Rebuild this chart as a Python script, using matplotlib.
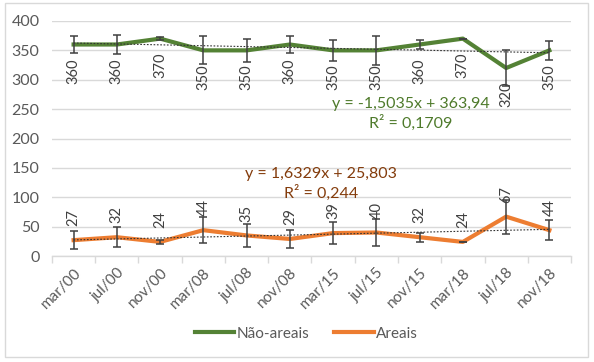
import numpy as np
import matplotlib
matplotlib.use("Agg")
from matplotlib import pyplot as plt
from matplotlib.patches import Rectangle

plt.rcParams['font.family'] = ['Lato', 'DejaVu Sans']

# dados
datas = ['mar/00', 'jul/00', 'nov/00', 'mar/08', 'jul/08', 'nov/08',
         'mar/15', 'jul/15', 'nov/15', 'mar/18', 'jul/18', 'nov/18']
nao_areais = [360, 360, 370, 350, 350, 360, 350, 350, 360, 370, 320, 350]
nao_areais_err = [14, 16, 3, 24, 19, 14, 18, 25, 7, 0, 30, 16]
areais = [27, 32, 24, 44, 35, 29, 39, 40, 32, 24, 67, 44]
areais_err = [15, 17, 4, 22, 20, 15, 19, 23, 8, 0, 29, 17]

# linhas de tendência (Excel, x = 1..12)
tend_nao = (-1.5035, 363.94, 0.1709)
tend_are = (1.6329, 25.803, 0.244)

verde = '#548235'
laranja = '#ED7D31'
cinza = '#595959'

fig = plt.figure(figsize=(5.94, 3.62), dpi=100)
ax = fig.add_axes([0.0875, 0.2928, 0.8738, 0.6492])

x = np.arange(len(datas))

ax.errorbar(x, nao_areais, yerr=nao_areais_err, fmt='none', ecolor='#404040',
            elinewidth=1.1, capsize=3, capthick=1.1, zorder=3)
ax.errorbar(x, areais, yerr=areais_err, fmt='none', ecolor='#404040',
            elinewidth=1.1, capsize=3, capthick=1.1, zorder=3)

ax.plot(x, nao_areais, color=verde, lw=3, label='Não-areais', zorder=2,
        solid_joinstyle='round')
ax.plot(x, areais, color=laranja, lw=3, label='Areais', zorder=2,
        solid_joinstyle='round')

xt = x + 1
ax.plot(x, tend_nao[0] * xt + tend_nao[1], ls=(0, (1.5, 1.5)), color='#333333',
        lw=0.8, zorder=4)
ax.plot(x, tend_are[0] * xt + tend_are[1], ls=(0, (1.5, 1.5)), color='#333333',
        lw=0.8, zorder=4)

for xi, v in zip(x, nao_areais):
    ax.annotate(str(v), (xi, v), xytext=(0, -10), textcoords='offset points',
                rotation=90, ha='center', va='top', fontsize=10.5, color='#404040')
for xi, v in zip(x, areais):
    ax.annotate(str(v), (xi, v), xytext=(0, 10), textcoords='offset points',
                rotation=90, ha='center', va='bottom', fontsize=10.5, color='#404040')

ax.text(7.8, 259, 'y = -1,5035x + 363,94', ha='center', va='center',
        fontsize=11.5, color='#4E7A2B')
ax.text(7.8, 226, 'R² = 0,1709', ha='center', va='center',
        fontsize=11.5, color='#4E7A2B')
ax.text(5.72, 140, 'y = 1,6329x + 25,803', ha='center', va='center',
        fontsize=11.5, color='#843C0C')
ax.text(5.72, 107, 'R² = 0,244', ha='center', va='center',
        fontsize=11.5, color='#843C0C')

ax.set_xlim(-0.5, len(datas) - 0.5)
ax.set_ylim(0, 400)
ax.set_yticks(range(0, 401, 50))
ax.grid(axis='y', color='#D9D9D9', lw=1)
ax.set_axisbelow(True)
for s in ['top', 'right', 'left']:
    ax.spines[s].set_visible(False)
ax.spines['bottom'].set_color('#D9D9D9')
ax.spines['bottom'].set_linewidth(1)

ax.set_xticks(x)
ax.set_xticklabels(datas, rotation=45, ha='right', rotation_mode='anchor',
                   fontsize=11, color=cinza)
ax.tick_params(axis='x', length=0, pad=7)
ax.set_xticks(np.arange(-0.5, len(datas)), minor=True)
ax.tick_params(axis='x', which='minor', length=5, color='#D9D9D9', width=1)
ax.tick_params(axis='y', length=0, labelsize=11.5, labelcolor=cinza, pad=9)

leg = ax.legend(loc='center', bbox_to_anchor=(0.49, -0.33), ncol=2, frameon=False,
                fontsize=11, handlelength=2.6, columnspacing=1.6, handletextpad=0.15)
for t in leg.get_texts():
    t.set_color(cinza)

fig.patches.append(Rectangle((5 / 594, 5 / 362), 583 / 594, 354 / 362,
                             transform=fig.transFigure, fill=False,
                             edgecolor='#D9D9D9', lw=1))

fig.savefig('out.png', dpi=100)
